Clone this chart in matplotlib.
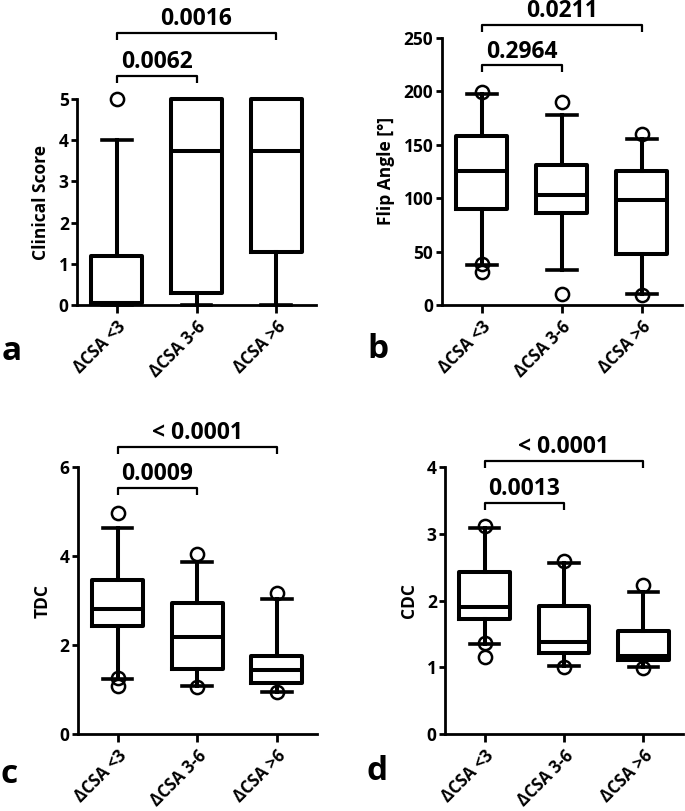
import matplotlib
matplotlib.use("Agg")
import matplotlib.pyplot as plt

plt.rcParams['font.family'] = ['Open Sans', 'DejaVu Sans']
plt.rcParams['font.weight'] = 'bold'

categories = ['ΔCSA <3', 'ΔCSA 3-6', 'ΔCSA >6']

# Panel a: Clinical Score
a_q1 = [0.05, 0.28, 1.28]
a_med = [0.05, 3.75, 3.75]
a_q3 = [1.2, 5.0, 5.0]
a_lo = [0.0, 0.0, 0.0]
a_hi = [4.0, 5.0, 5.0]
a_fl = [[5.0], [], []]
a_ticks = [0, 1, 2, 3, 4, 5]
a_p = [('0.0062', 1, 5.56), ('0.0016', 2, 6.6)]

# Panel b: Flip Angle
b_q1 = [90, 86, 48]
b_med = [125, 103, 98]
b_q3 = [158, 131, 125]
b_lo = [37, 33, 10]
b_hi = [197, 178, 155]
b_fl = [[199, 38, 31], [190, 10], [160, 9]]
b_ticks = [0, 50, 100, 150, 200, 250]
b_p = [('0.2964', 1, 224), ('0.0211', 2, 262)]

# Panel c: TDC
c_q1 = [2.43, 1.46, 1.14]
c_med = [2.80, 2.19, 1.44]
c_q3 = [3.47, 2.95, 1.76]
c_lo = [1.25, 1.08, 0.95]
c_hi = [4.63, 3.87, 3.03]
c_fl = [[4.97, 1.27, 1.09], [4.04, 1.07], [3.16, 0.94]]
c_ticks = [0, 2, 4, 6]
c_p = [('0.0009', 1, 5.52), ('< 0.0001', 2, 6.45)]

# Panel d: CDC
d_q1 = [1.73, 1.22, 1.11]
d_med = [1.90, 1.38, 1.17]
d_q3 = [2.42, 1.92, 1.55]
d_lo = [1.345, 1.025, 1.01]
d_hi = [3.08, 2.56, 2.12]
d_fl = [[3.12, 1.37, 1.16], [2.59, 1.01], [2.23, 0.99]]
d_ticks = [0, 1, 2, 3, 4]
d_p = [('0.0013', 1, 3.46), ('< 0.0001', 2, 4.09)]

W, H = 685, 811
fig = plt.figure(figsize=(W / 100, H / 100), dpi=100)

def rect(l, r, t, b):
    return [l / W, 1 - b / H, (r - l) / W, (b - t) / H]

BLW = 2.9

def panel(r, q1, med, q3, lo, hi, fl, ticks, ylabel, pvals, letter, letter_xy):
    ax = fig.add_axes(rect(*r))
    stats = []
    for i in range(3):
        stats.append(dict(q1=q1[i], med=med[i], q3=q3[i], whislo=lo[i],
                          whishi=hi[i], fliers=fl[i]))
    art = ax.bxp(stats, positions=[0, 1, 2], widths=0.64, capwidths=0.37,
                 boxprops=dict(color='black', linewidth=BLW),
                 medianprops=dict(color='black', linewidth=BLW),
                 whiskerprops=dict(color='black', linewidth=BLW),
                 capprops=dict(color='black', linewidth=2.6),
                 flierprops=dict(marker='o', markersize=9.5, markerfacecolor='none',
                                 markeredgecolor='black', markeredgewidth=1.8,
                                 linestyle='none'))
    for k, lst in art.items():
        for a in lst:
            a.set_clip_on(False)
    ax.set_xlim(-0.5, 2.5)
    ax.set_ylim(ticks[0], ticks[-1])
    ax.set_yticks(ticks)
    ax.set_xticks([0, 1, 2])
    ax.set_xticklabels(categories, rotation=45, ha='right', va='top',
                       rotation_mode='anchor', fontsize=12, fontweight='bold')
    for lab in ax.get_yticklabels():
        lab.set_fontsize(12.5)
        lab.set_fontweight('bold')
    ax.spines['top'].set_visible(False)
    ax.spines['right'].set_visible(False)
    for s in ('left', 'bottom'):
        ax.spines[s].set_linewidth(2.0)
    ax.tick_params(axis='y', length=4, width=2.0, pad=2)
    ax.tick_params(axis='x', length=6, width=2.0, pad=3)
    ax.set_ylabel(ylabel, fontsize=12.5, fontweight='bold', labelpad=6)
    ax.patch.set_alpha(0)
    # brackets
    axh = (r[3] - r[2])
    yr = ticks[-1] - ticks[0]
    h = 7.0 / axh * yr
    for txt, x1, y in pvals:
        ax.plot([0, 0, x1, x1], [y - h, y, y, y - h], color='black',
                linewidth=1.6, clip_on=False, solid_capstyle='butt')
        ax.annotate(txt, xy=((x1) / 2, y), xytext=(0, 5.5), textcoords='offset points',
                    ha='center', va='baseline', fontsize=16.5, fontweight='bold',
                    annotation_clip=False)
    fig.text(letter_xy[0] / W, 1 - letter_xy[1] / H, letter, fontsize=24,
             fontweight='bold', ha='left', va='baseline')
    return ax

panel((77, 316, 99, 305), a_q1, a_med, a_q3, a_lo, a_hi, a_fl, a_ticks,
      'Clinical Score', a_p, 'a', (2, 360))
panel((441.7, 681.7, 37.7, 305), b_q1, b_med, b_q3, b_lo, b_hi, b_fl, b_ticks,
      'Flip Angle [°]', b_p, 'b', (367, 358))
panel((77.7, 316.7, 466.7, 734.3), c_q1, c_med, c_q3, c_lo, c_hi, c_fl, c_ticks,
      'TDC', c_p, 'c', (0, 783))
panel((445, 683, 466.7, 734.3), d_q1, d_med, d_q3, d_lo, d_hi, d_fl, d_ticks,
      'CDC', d_p, 'd', (367, 780))

fig.savefig('out.png', dpi=100)
